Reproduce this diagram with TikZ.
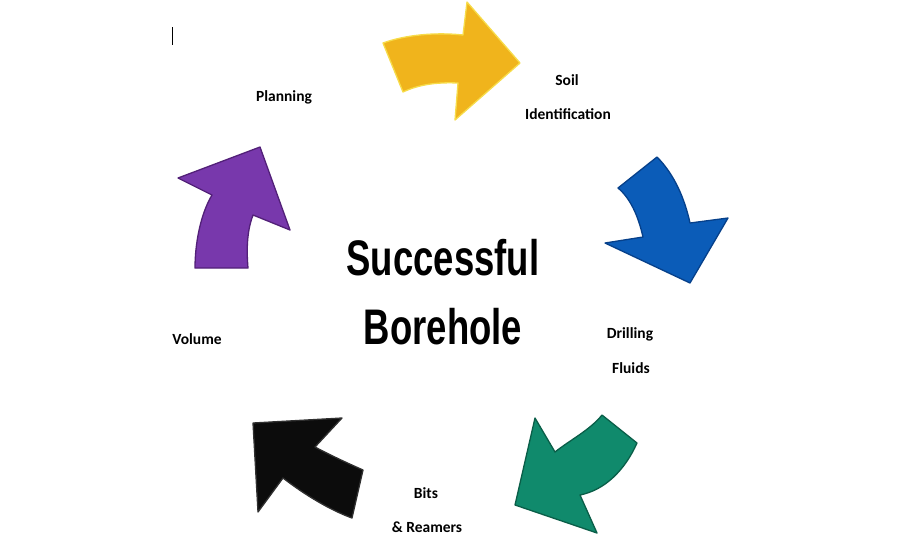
\documentclass[tikz,border=0pt]{standalone}
\usepackage{fontspec}
\setmainfont{Liberation Sans}
\newfontfamily\lblfont{Carlito}
\definecolor{ayellow}{HTML}{F0B41C}
\definecolor{ayellowd}{HTML}{F7DC4A}
\definecolor{ablue}{HTML}{0B5CB8}
\definecolor{ablued}{HTML}{06408A}
\definecolor{ateal}{HTML}{108A6C}
\definecolor{ateald}{HTML}{0A5E48}
\definecolor{ablack}{HTML}{0C0C0C}
\definecolor{ablackd}{HTML}{303030}
\definecolor{apurple}{HTML}{7838AC}
\definecolor{apurpled}{HTML}{522078}
\begin{document}
\begin{tikzpicture}[x=1pt,y=-1pt,
  blockarrow/.style={line width=1.3pt,line join=round},
  lbl/.style={font=\lblfont\bfseries\fontsize{15.5}{18}\selectfont,inner sep=0pt},
  title/.style={font=\bfseries\fontsize{50}{56}\selectfont,inner sep=0pt}]
\useasboundingbox (0,0) rectangle (900,550);
% cursor
\coordinate (c1) at (172,27); \coordinate (c2) at (172,45);
\draw[line width=0.8pt] (c1) -- (c2);
% yellow
\fill[ayellow,draw=ayellowd,blockarrow] (383,43) .. controls (405,35) and (435,32) .. (463,35)
  -- (467,2) -- (520,63) -- (455,120) -- (458,83)
  .. controls (435,82) and (418,85) .. (403,92) -- cycle;
% blue
\fill[ablue,draw=ablued,blockarrow] (618,188) -- (657,157)
  .. controls (675,175) and (685,200) .. (690,223)
  -- (728,218) -- (690,283) -- (605,243) -- (643,237)
  .. controls (638,215) and (630,198) .. (618,188) -- cycle;
% teal
\fill[ateal,draw=ateald,blockarrow] (602,415) -- (637,443)
  .. controls (625,470) and (605,490) .. (580,495)
  -- (597,533) -- (515,505) -- (535,418) -- (555,452)
  .. controls (570,440) and (590,430) .. (602,415) -- cycle;
% black
\fill[ablack,draw=ablackd,blockarrow] (342,418) -- (253,423) -- (258,512) -- (283,478)
  .. controls (305,495) and (330,510) .. (352,518)
  -- (363,470)
  .. controls (345,462) and (330,455) .. (315,447) -- cycle;
% purple
\fill[apurple,draw=apurpled,blockarrow] (260,147) -- (178,178) -- (212,195)
  .. controls (200,215) and (195,245) .. (195,268)
  -- (248,268)
  .. controls (246,245) and (248,228) .. (253,215)
  -- (290,230) -- cycle;
% labels
\node[lbl] (planning) at (284,97) {Planning};
\node[lbl] (soil) at (567,80) {Soil};
\node[lbl] (ident) at (568,114) {Identification};
\node[lbl] (drill) at (630,334) {Drilling};
\node[lbl] (fluids) at (631,368) {Fluids};
\node[lbl] (bits) at (426,493) {Bits};
\node[lbl] (reamers) at (427,527) {\& Reamers};
\node[lbl] (volume) at (197,339) {Volume};
\node[title] (succ) at (443,258) {\scalebox{0.73}[1]{Successful}};
\node[title] (bore) at (443,327) {\scalebox{0.73}[1]{Borehole}};
\end{tikzpicture}
\end{document}
